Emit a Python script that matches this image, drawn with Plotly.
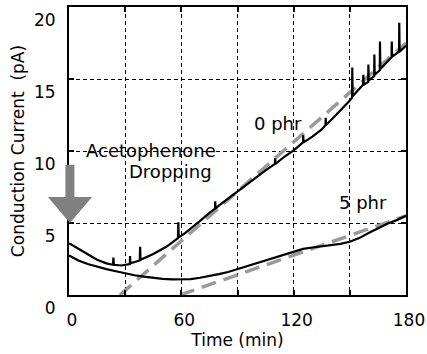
import plotly.graph_objects as go

# ---- data ----
t_0phr = [0, 5, 10, 15, 20, 23.5, 23.7, 24, 28, 32.5, 32.6, 32.8, 37.8, 38, 38.2,
          45, 52, 58.2, 58.4, 58.6, 62, 66, 70, 75, 78, 78.1, 78.3, 80, 85, 90, 95,
          100, 105, 110, 110.1, 110.3, 115, 120, 125, 125.1, 125.3, 130, 135, 137,
          137.1, 137.3, 140, 145, 150, 151.2, 151.3, 151.5, 155, 157.1, 157.2, 157.4,
          159.8, 159.9, 160.1, 163, 163.1, 163.3, 166, 166.1, 166.3, 170, 172.3,
          172.4, 172.6, 176.3, 176.4, 176.6, 180]
i_0phr = [3.6, 3.2, 2.8, 2.45, 2.2, 2.1, 2.6, 2.1, 2.05, 2.15, 2.7, 2.2, 2.4, 3.35, 2.45,
          2.85, 3.35, 3.95, 5.05, 4.0, 4.3, 4.7, 5.15, 5.7, 6.0, 6.5, 6.0, 6.2, 6.7, 7.2,
          7.7, 8.2, 8.65, 9.1, 9.5, 9.1, 9.6, 10.05, 10.6, 11.1, 10.6, 11.0, 11.5, 11.8,
          12.3, 11.8, 12.15, 12.8, 13.5, 13.7, 15.8, 13.8, 14.3, 14.6, 15.3, 14.6,
          14.8, 16.0, 14.9, 15.2, 16.7, 15.3, 15.6, 17.6, 15.7, 16.2, 16.5,
          17.6, 16.55, 16.9, 18.9, 16.9, 17.3]

t_5phr = [0, 5, 10, 15, 20, 25, 30, 35, 40, 45, 50, 55, 60, 65, 70, 75, 80, 85, 90,
          95, 100, 105, 110, 115, 120, 125, 130, 135, 140, 145, 150, 155, 160, 165,
          170, 175, 180]
i_5phr = [2.75, 2.4, 2.15, 1.95, 1.8, 1.65, 1.5, 1.37, 1.27, 1.18, 1.12, 1.08, 1.07,
          1.1, 1.2, 1.3, 1.45, 1.6, 1.8, 2.0, 2.2, 2.4, 2.6, 2.85, 3.05, 3.2, 3.3,
          3.38, 3.45, 3.55, 3.7, 3.95, 4.3, 4.65, 4.95, 5.2, 5.5]

fit0_t = [27.2, 180]
fit0_i = [0, 17.5]
fit5_t = [59.3, 180]
fit5_i = [0, 5.5]

x_ticks = [0, 30, 60, 90, 120, 150, 180]
x_ticktext = ["0", "", "60", "", "120", "", "180"]
y_ticks = [0, 5, 10, 15, 20]
y_ticktext = ["0", "5", "10", "15", "20"]

x_range = [0, 180]
y_range = [0, 20]

# arrow (drop marker) in data units
arrow_t = 0.5
arrow_top, arrow_base, arrow_tip = 9.05, 6.8, 5.0
arrow_shaft_half, arrow_head_half = 2.4, 11.8

FONT = "DejaVu Sans"

fig = go.Figure()
fig.add_trace(go.Scatter(x=fit0_t, y=fit0_i, mode="lines",
                         line=dict(color="#9a9a9a", width=3.5, dash="15px,8px"),
                         showlegend=False, hoverinfo="skip"))
fig.add_trace(go.Scatter(x=fit5_t, y=fit5_i, mode="lines",
                         line=dict(color="#9a9a9a", width=3.5, dash="15px,8px"),
                         showlegend=False, hoverinfo="skip"))
fig.add_trace(go.Scatter(x=t_0phr, y=i_0phr, mode="lines",
                         line=dict(color="black", width=2.2), showlegend=False))
fig.add_trace(go.Scatter(x=t_5phr, y=i_5phr, mode="lines",
                         line=dict(color="black", width=2.2), showlegend=False))


def px(t):
    return (t - x_range[0]) / (x_range[1] - x_range[0])


def py(v):
    return (v - y_range[0]) / (y_range[1] - y_range[0])


c = arrow_t
pts = [(c - arrow_shaft_half, arrow_top), (c + arrow_shaft_half, arrow_top),
       (c + arrow_shaft_half, arrow_base), (c + arrow_head_half, arrow_base),
       (c, arrow_tip), (c - arrow_head_half, arrow_base),
       (c - arrow_shaft_half, arrow_base)]
path = "M " + " L ".join(f"{px(a):.5f},{py(b):.5f}" for a, b in pts) + " Z"
fig.add_shape(type="path", path=path, xref="paper", yref="paper",
              fillcolor="#808080", line=dict(width=0), layer="above")

ann_font = dict(family=FONT, size=18, color="black")
fig.add_annotation(x=8.0, y=10.05, text="Acetophenone", showarrow=False,
                   xanchor="left", yanchor="middle", font=ann_font)
fig.add_annotation(x=31, y=8.6, text="Dropping", showarrow=False,
                   xanchor="left", yanchor="middle", font=ann_font)
fig.add_annotation(x=111.4, y=11.9, text="0 phr", showarrow=False,
                   xanchor="center", yanchor="middle", font=ann_font)
fig.add_annotation(x=156.8, y=6.4, text="5 phr", showarrow=False,
                   xanchor="center", yanchor="middle", font=ann_font)

axis_common = dict(showline=True, linewidth=2, linecolor="black", mirror="ticks",
                   ticks="inside", ticklen=5, tickwidth=2, tickcolor="black",
                   showgrid=True, gridcolor="black", gridwidth=1, griddash="4px,3px",
                   zeroline=False, automargin=False,
                   tickfont=dict(family=FONT, size=17, color="black"))

fig.update_xaxes(range=x_range, tickmode="array", tickvals=x_ticks, ticktext=x_ticktext,
                 title=dict(text="Time (min)", font=dict(family=FONT, size=17, color="black"),
                            standoff=2),
                 ticklabelstandoff=9, ticklabelshift=3, **axis_common)
fig.update_yaxes(range=y_range, tickmode="array", tickvals=y_ticks, ticktext=y_ticktext,
                 title=dict(text="Conduction Current\u00a0 (pA)",
                            font=dict(family=FONT, size=17, color="black"), standoff=5),
                 ticklabelstandoff=8, ticklabelshift=13, **axis_common)

fig.update_layout(width=427, height=354, margin=dict(l=69, r=21, t=7, b=59),
                  paper_bgcolor="white", plot_bgcolor="white",
                  font=dict(family=FONT, size=17, color="black"))

# remove the browser's default 8px page margin so the figure fills the window
fig.write_html("out.html",
               config={"displayModeBar": False},
               post_script="document.body.style.margin='0';"
                           "document.body.style.overflow='hidden';")
